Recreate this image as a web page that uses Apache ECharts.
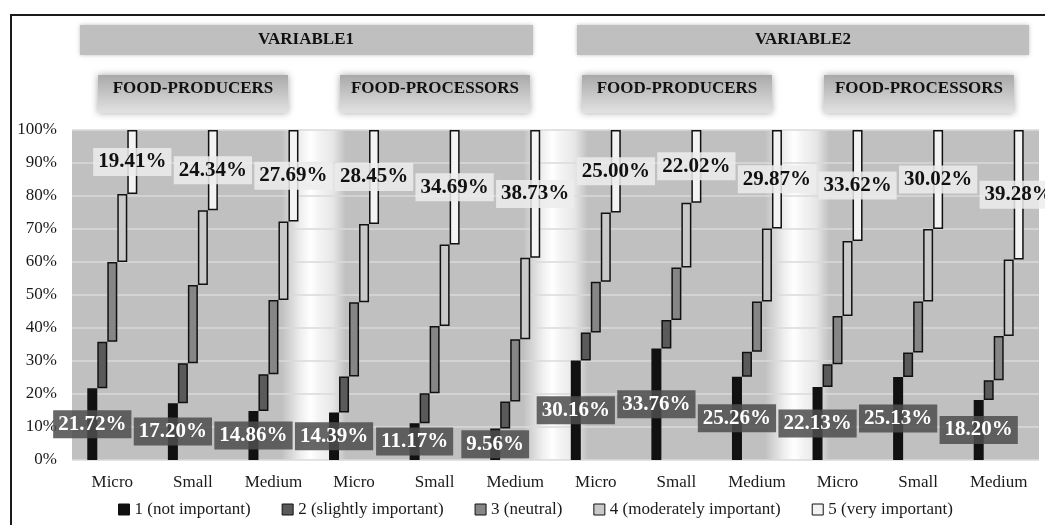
<!DOCTYPE html>
<html>
<head>
<meta charset="utf-8">
<script src="https://cdn.jsdelivr.net/npm/echarts@6/dist/echarts.min.js"></script>
<style>
  html, body { margin: 0; padding: 0; background: #ffffff; }
  #chart { width: 1045px; height: 525px; }
</style>
</head>
<body>
<div id="chart"></div>
<script>
// Company size categories, repeated for each variable / sector block
const categories = [
  'Micro', 'Small', 'Medium', 'Micro', 'Small', 'Medium',
  'Micro', 'Small', 'Medium', 'Micro', 'Small', 'Medium'
];

// Importance levels (legend)
const levelNames = [
  '1 (not important)',
  '2 (slightly important)',
  '3 (neutral)',
  '4 (moderately important)',
  '5 (very important)'
];

// Share of answers per level (%), one entry per category
const level1 = [21.72, 17.20, 14.86, 14.39, 11.17, 9.56, 30.16, 33.76, 25.26, 22.13, 25.13, 18.20];
const level2 = [14.08, 12.10, 11.14, 10.91, 9.03, 8.14, 8.44, 8.64, 7.54, 6.87, 7.47, 6.00];
const level3 = [24.20, 23.70, 22.50, 22.50, 20.40, 18.90, 15.40, 15.90, 15.20, 14.60, 15.40, 13.40];
const level4 = [20.59, 22.66, 23.81, 23.75, 24.71, 24.67, 21.00, 19.68, 22.13, 22.78, 21.98, 23.12];
const level5 = [19.41, 24.34, 27.69, 28.45, 34.69, 38.73, 25.00, 22.02, 29.87, 33.62, 30.02, 39.28];

// Percent tick labels on the value axis
const yTicks = ['0%', '10%', '20%', '30%', '40%', '50%', '60%', '70%', '80%', '90%', '100%'];

// Header texts
const variableTitles = ['VARIABLE1', 'VARIABLE2'];
const sectorTitles = ['FOOD-PRODUCERS', 'FOOD-PROCESSORS', 'FOOD-PRODUCERS', 'FOOD-PROCESSORS'];

const levels = [level1, level2, level3, level4, level5];
const levelColors = ['#111111', '#5a5a5a', '#868686', '#c9c9c9', '#f3f3f3'];
const serif = 'Liberation Serif, Times New Roman, serif';

const chart = echarts.init(document.getElementById('chart'), null, { renderer: 'canvas' });

// Each level is a floating bar: an invisible base (sum of lower levels) plus the visible share
const series = [];
levels.forEach((vals, k) => {
  const base = vals.map((_, i) => {
    let s = 0;
    for (let j = 0; j < k; j++) s += levels[j][i];
    return +s.toFixed(2);
  });
  series.push({
    name: 'base' + k,
    type: 'bar',
    stack: 's' + k,
    barWidth: 10,
    barGap: '0%',
    silent: true,
    itemStyle: { color: 'transparent', borderWidth: 0 },
    data: base,
    z: 2
  });
  const showLabel = (k === 0 || k === 4);
  series.push({
    name: levelNames[k],
    type: 'bar',
    stack: 's' + k,
    barWidth: 10,
    barGap: '0%',
    itemStyle: { color: levelColors[k], borderColor: '#111', borderWidth: 1.5 },
    label: {
      show: showLabel,
      position: 'inside',
      formatter: p => p.value.toFixed(2) + '%',
      fontFamily: serif,
      fontWeight: 'bold',
      fontSize: 21,
      lineHeight: 22,
      color: k === 0 ? '#ffffff' : '#111111',
      backgroundColor: k === 0 ? 'rgba(78,78,78,0.86)' : 'rgba(236,236,236,0.86)',
      padding: [3, 5, 3, 5]
    },
    data: vals,
    z: 3
  });
});

// Glossy light bands separating the sector blocks
const bandGradient = new echarts.graphic.LinearGradient(0, 0, 1, 0, [
  { offset: 0, color: 'rgba(255,255,255,0)' },
  { offset: 0.3, color: 'rgba(255,255,255,0.75)' },
  { offset: 0.45, color: 'rgba(255,255,255,1)' },
  { offset: 0.6, color: 'rgba(245,245,245,0.95)' },
  { offset: 0.8, color: 'rgba(255,255,255,0.6)' },
  { offset: 1, color: 'rgba(255,255,255,0)' }
]);
series.push({
  name: 'bands',
  type: 'scatter',
  xAxisIndex: 1,
  yAxisIndex: 0,
  silent: true,
  data: [],
  z: 1,
  markArea: {
    silent: true,
    itemStyle: { color: bandGradient },
    data: [
      [{ xAxis: 2.6 }, { xAxis: 3.4 }],
      [{ xAxis: 5.6 }, { xAxis: 6.4 }],
      [{ xAxis: 8.6 }, { xAxis: 9.4 }]
    ]
  }
});

// Header boxes
const boxGradient = new echarts.graphic.LinearGradient(0, 0, 0, 1, [
  { offset: 0, color: '#a9a9a9' },
  { offset: 1, color: '#e2e2e2' }
]);
const graphics = [
  {
    type: 'rect', z: -10, silent: true,
    shape: { x: 11, y: 15, width: 1060, height: 530 },
    style: { fill: 'none', stroke: '#1a1a1a', lineWidth: 2 }
  }
];
const varBoxes = [{ x: 80, w: 453, cx: 306 }, { x: 577, w: 452, cx: 803 }];
varBoxes.forEach((b, i) => {
  graphics.push({
    type: 'rect', silent: true,
    shape: { x: b.x, y: 25, width: b.w, height: 30 },
    style: { fill: '#bfbfbf', shadowBlur: 4, shadowColor: 'rgba(0,0,0,0.25)' }
  });
  graphics.push({
    type: 'text', silent: true, x: b.cx, y: 40,
    style: {
      text: variableTitles[i], fill: '#111', font: 'bold 17px ' + serif,
      align: 'center', verticalAlign: 'middle'
    }
  });
});
const sectorCenters = [193, 435, 677, 919];
sectorCenters.forEach((cx, i) => {
  graphics.push({
    type: 'rect', silent: true,
    shape: { x: cx - 95, y: 75, width: 190, height: 38 },
    style: { fill: boxGradient, shadowBlur: 7, shadowColor: 'rgba(0,0,0,0.35)' }
  });
  graphics.push({
    type: 'text', silent: true, x: cx, y: 89,
    style: {
      text: sectorTitles[i], fill: '#111', font: 'bold 17px ' + serif,
      align: 'center', verticalAlign: 'middle'
    }
  });
});

const option = {
  animation: false,
  backgroundColor: '#ffffff',
  textStyle: { fontFamily: serif },
  grid: {
    left: 72, right: 6, top: 130, bottom: 65,
    show: true, backgroundColor: '#c0c0c0', borderWidth: 0
  },
  legend: {
    data: levelNames,
    left: 113,
    bottom: 2,
    itemWidth: 11,
    itemHeight: 11,
    itemGap: 31,
    icon: 'rect',
    textStyle: { fontFamily: serif, fontSize: 17, color: '#1a1a1a' },
    itemStyle: { borderColor: '#111', borderWidth: 1 }
  },
  xAxis: [
    {
      type: 'category',
      data: categories,
      axisLine: { show: false },
      axisTick: { show: false },
      axisLabel: { fontFamily: serif, fontSize: 17, color: '#1a1a1a', margin: 14 }
    },
    {
      type: 'value',
      min: 0, max: 12,
      show: false
    }
  ],
  yAxis: {
    type: 'value',
    min: 0, max: 100, interval: 10,
    z: 1.5,
    axisLine: { show: false },
    axisTick: { show: false },
    axisLabel: {
      fontFamily: serif, fontSize: 17, color: '#1a1a1a', margin: 15,
      formatter: v => yTicks[Math.round(v / 10)]
    },
    splitLine: { lineStyle: { color: '#dadada', width: 1.5 } }
  },
  graphic: graphics,
  series: series
};

chart.setOption(option);
</script>
</body>
</html>
